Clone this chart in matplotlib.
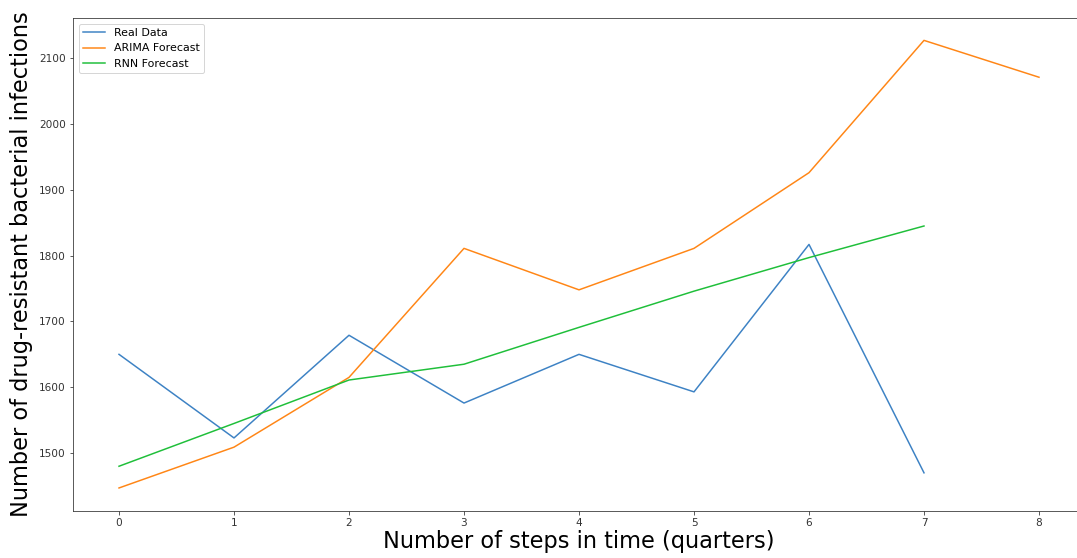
import matplotlib
matplotlib.use('Agg')
import matplotlib.pyplot as plt

steps = [0, 1, 2, 3, 4, 5, 6, 7, 8]
real = [1650, 1523, 1679, 1576, 1650, 1593, 1817, 1470]
arima = [1447, 1509, 1615, 1811, 1748, 1811, 1926, 2127, 2071]
rnn = [1480, 1545, 1611, 1635, 1691, 1746, 1797, 1845]

fig = plt.figure(figsize=(1077 / 72, 558 / 72), dpi=72)
ax = fig.add_axes([73 / 1077, 1 - 511 / 558, 1012 / 1077, 493 / 558])

ax.plot(steps[:len(real)], real, color='#3d82c4', lw=1.5, label='Real Data')
ax.plot(steps, arima, color='#ff8616', lw=1.5, label='ARIMA Forecast')
ax.plot(steps[:len(rnn)], rnn, color='#1fbf3a', lw=1.5, label='RNN Forecast')

ax.set_xlim(-0.4, 8.4)
ax.set_ylim(1412, 2161)
ax.set_xticks(steps)
ax.tick_params(labelsize=10.5, colors='#333333')
for s in ax.spines.values():
    s.set_color('#333333')
# right edge of the axes runs off the canvas
ax.spines['right'].set_visible(False)

ax.set_xlabel('Number of steps in time (quarters)', fontsize=22.5, color='black', labelpad=2)
ax.set_ylabel('Number of drug-resistant bacterial infections', fontsize=22.5, color='black', labelpad=6)
ax.legend(loc='upper left', fontsize=11)

fig.savefig('out.png', dpi=72)
